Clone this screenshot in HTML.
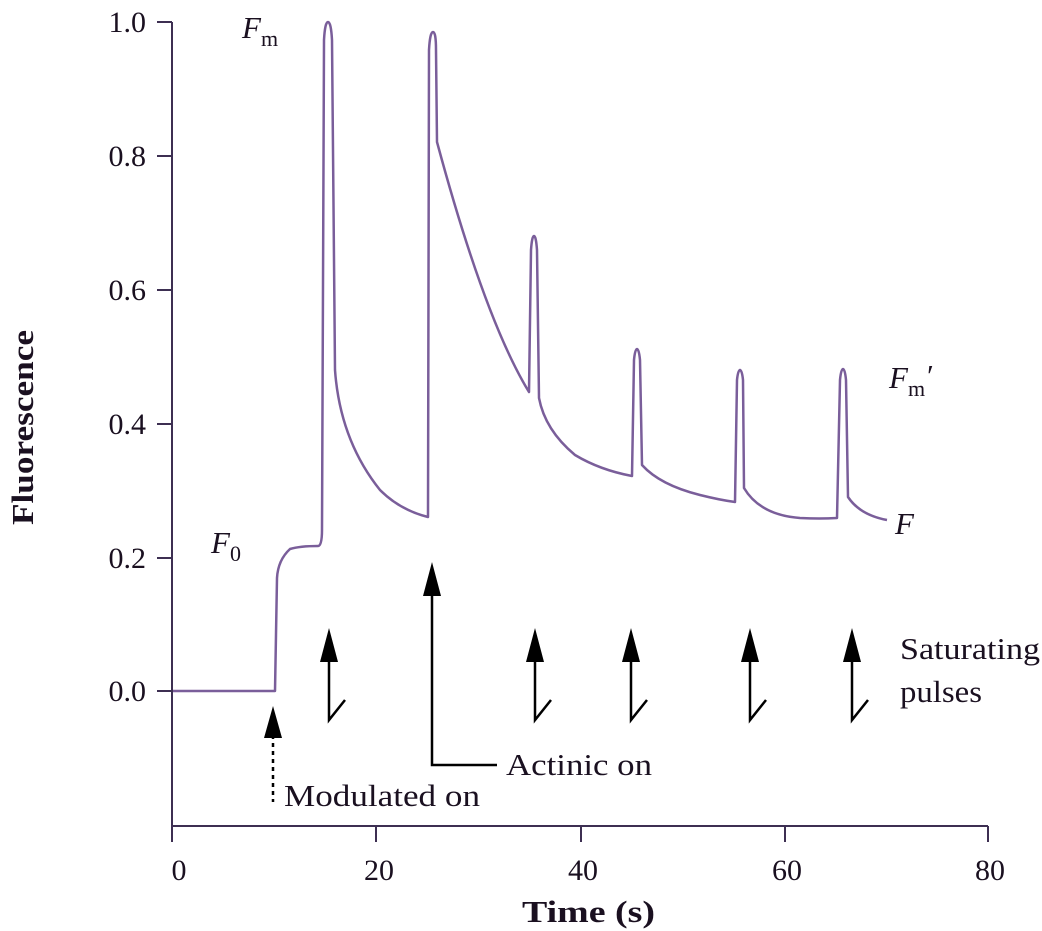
<!DOCTYPE html>
<html><head><meta charset="utf-8"><style>
body{margin:0;background:#fff;}
svg{display:block;font-family:"Liberation Serif",serif;}
</style></head><body>
<svg width="1042" height="931" viewBox="0 0 1042 931">
<g stroke="#3d2f52" stroke-width="2" fill="none">
<path d="M172,22 V826 H988"/>
<path d="M157,22H172 M157,156H172 M157,290H172 M157,424H172 M157,558H172 M157,691H172"/>
<path d="M172,826V842 M376,826V842 M581,826V842 M785,826V842 M988,826V842"/>
</g>
<g font-size="30" fill="#1a1020" text-anchor="end">
<text x="146" y="32">1.0</text><text x="146" y="166">0.8</text><text x="146" y="300">0.6</text>
<text x="146" y="434">0.4</text><text x="146" y="568">0.2</text><text x="146" y="701">0.0</text>
</g>
<g font-size="30" fill="#1a1020" text-anchor="middle">
<text x="179" y="880">0</text><text x="379" y="880">20</text><text x="583" y="880">40</text>
<text x="787" y="880">60</text><text x="990" y="880">80</text>
</g>
<text x="522" y="922" font-size="31" font-weight="bold" fill="#1a1020" textLength="133" lengthAdjust="spacingAndGlyphs">Time (s)</text>
<text transform="translate(33,525) rotate(-90)" font-size="31" font-weight="bold" fill="#1a1020" textLength="195" lengthAdjust="spacingAndGlyphs">Fluorescence</text>

<path fill="none" stroke="#7a5e9a" stroke-width="2.5" stroke-linejoin="round" d="
M173,691 H275 L277,578 Q278,560 290,549 Q300,546 318,546 Q322,546 322,530
L324,40 Q325,22 328,22 Q331,22 332,40 L335,370
Q340,440 380,490 Q400,510 428,517
L429,50 Q430,32 433,32 Q436,32 436,50 L437,142
Q485,320 529,392
L531,250 Q532,236 534,236 Q536,236 537,250 L539,398
Q545,430 575,455 Q600,470 632,476
L634,360 Q635,349 637,349 Q639,349 640,360 L642,465
Q660,485 700,495 Q720,500 735,502
L737,380 Q738,370 740,370 Q742,370 743,380 L744,488
Q760,515 800,518 Q820,519 837,518
L840,380 Q841,369 843,369 Q845,369 846,380 L848,497
Q860,515 887,520"/>

<g stroke="#000" stroke-width="2.5" fill="none">
<path d="M329,655V720L345,700"/>
<path d="M535,655V720L551,700"/>
<path d="M631,655V720L647,700"/>
<path d="M750,655V720L766,700"/>
<path d="M852,655V720L868,700"/>
<path d="M432,590V765H497"/>
<path d="M273,735V802" stroke-dasharray="4,4"/>
</g>
<g fill="#000">
<path d="M329,628L320,662H338Z"/>
<path d="M535,628L526,662H544Z"/>
<path d="M631,628L622,662H640Z"/>
<path d="M750,628L741,662H759Z"/>
<path d="M852,628L843,662H861Z"/>
<path d="M432,562L423,596H441Z"/>
<path d="M273,706L264,738H282Z"/>
</g>

<g font-size="31" fill="#1a1020">
<text x="242" y="38" font-style="italic">F<tspan font-style="normal" font-size="22" dy="8">m</tspan></text>
<text x="211" y="553" font-style="italic">F<tspan font-style="normal" font-size="22" dy="8">0</tspan></text>
<text x="889" y="388" font-style="italic">F<tspan font-style="normal" font-size="22" dy="8">m</tspan><tspan dy="-10">′</tspan></text>
<text x="895" y="534" font-style="italic">F</text>
<text x="900" y="659" textLength="140" lengthAdjust="spacingAndGlyphs">Saturating</text>
<text x="900" y="702" textLength="82" lengthAdjust="spacingAndGlyphs">pulses</text>
<text x="506" y="775" textLength="146" lengthAdjust="spacingAndGlyphs">Actinic on</text>
<text x="284" y="806" textLength="196" lengthAdjust="spacingAndGlyphs">Modulated on</text>
</g>
</svg>
</body></html>
